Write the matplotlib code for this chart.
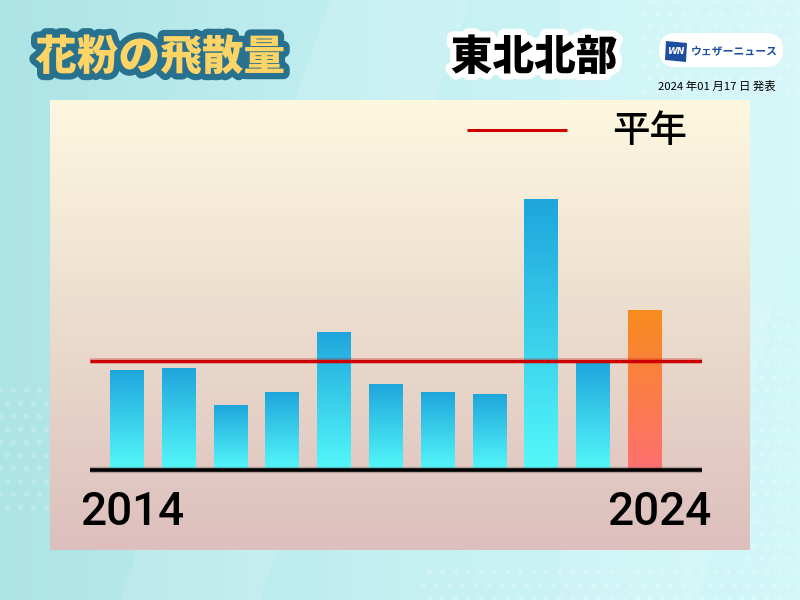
import numpy as np
import matplotlib
matplotlib.use("Agg")
import matplotlib.pyplot as plt
from matplotlib.patches import FancyBboxPatch, Rectangle, Polygon
from matplotlib.colors import LinearSegmentedColormap
import matplotlib.patheffects as pe

plt.rcParams['font.family'] = ['Noto Sans CJK JP', 'DejaVu Sans']

# ---- data (relative pollen amount, normal year = 100) ----
years = [2014, 2015, 2016, 2017, 2018, 2019, 2020, 2021, 2022, 2023, 2024]
values = [92, 94, 60, 72, 127, 79, 72, 70, 249, 100, 147]
normal = 100
title = "花粉の飛散量"
region = "東北北部"
legend_label = "平年"
brand = "ウェザーニュース"
date_text = "2024 年01 月17 日 発表"
first_label, last_label = "2014", "2024"

W, H = 800, 600
fig = plt.figure(figsize=(8, 6), dpi=100)

# ---- background axes in pixel coords ----
bg = fig.add_axes([0, 0, 1, 1])
bg.set_xlim(0, W)
bg.set_ylim(H, 0)
bg.axis('off')
grad = np.linspace(0, 1, 256).reshape(1, -1)
bgcmap = LinearSegmentedColormap.from_list('bg', ['#ade4e6', '#c4f0f2', '#d4f7f8'])
bg.imshow(grad, extent=[0, W, H, 0], cmap=bgcmap, aspect='auto', zorder=0)
# diagonal light shapes
bg.add_patch(Polygon([[330, 0], [470, 0], [260, 600], [120, 600]], closed=True,
                     fc='white', alpha=0.12, ec='none', zorder=1))
bg.add_patch(Polygon([[560, 0], [800, 0], [800, 200], [700, 600], [560, 600]], closed=True,
                     fc='white', alpha=0.10, ec='none', zorder=1))
# dot pattern
xs, ys = np.meshgrid(np.arange(0, W, 13), np.arange(0, H, 13))
xs = xs + (np.arange(xs.shape[0])[:, None] % 2) * 6.5
mask = ((xs < 50) & (ys > 380) & (ys < 520)) | ((xs > 740) & (ys > 300)) | ((ys > 560) & (xs > 420)) | ((xs > 640) & (ys < 100))
bg.scatter(xs[mask], ys[mask], s=14, c='white', alpha=0.22, lw=0, zorder=1)

# panel gradient
pgrad = np.linspace(0, 1, 256).reshape(-1, 1)
pcmap = LinearSegmentedColormap.from_list('panel', ['#fef8e0', '#ebdccd', '#ddbfbd'])
bg.imshow(pgrad, extent=[50, 750, 550, 100], cmap=pcmap, aspect='auto', zorder=2)

# title
bg.text(160, 58, title, fontsize=30, fontweight='black', color='#ffd466',
        ha='center', va='center', zorder=5,
        path_effects=[pe.withStroke(linewidth=9, foreground='#28718f')])
bg.text(534, 58, region, fontsize=30, fontweight='black', color='black',
        ha='center', va='center', zorder=5,
        path_effects=[pe.withStroke(linewidth=9, foreground='white')])

# logo
bg.add_patch(FancyBboxPatch((659, 33), 124, 34, boxstyle='round,pad=0,rounding_size=17',
                            fc='white', ec='none', zorder=4))
bg.add_patch(Polygon([[666, 41], [687, 43], [686, 62], [665, 60]], closed=True,
                     fc='#1d4fa0', ec='none', zorder=5))
bg.text(676, 51.5, "WN", fontsize=6.5, fontweight='bold', style='italic', color='white',
        ha='center', va='center', zorder=6, family='DejaVu Sans')
bg.text(691, 51, brand, fontsize=7.8, fontweight='bold', color='#1d4fa0',
        ha='left', va='center', zorder=5)
bg.text(717, 86, date_text, fontsize=8.2, color='black', ha='center', va='center', zorder=5)

# legend
bg.plot([467, 567], [130, 130], color='#cc0000', lw=2.2, zorder=5, solid_capstyle='butt')
bg.text(650, 131, legend_label, fontsize=27, fontweight='medium', color='black',
        ha='center', va='center', zorder=5)

# year labels
bg.text(132, 512, first_label, fontsize=33, color='black', family='Roboto', fontweight='medium',
        ha='center', va='center', zorder=5)
bg.text(659, 512, last_label, fontsize=33, color='black', family='Roboto', fontweight='medium',
        ha='center', va='center', zorder=5)

# ---- data axes ----
x0, x1 = 90, 702
ybase, ytop = 470, 100
ax = fig.add_axes([x0 / W, (H - ybase) / H, (x1 - x0) / W, (ybase - ytop) / H])
ax.patch.set_alpha(0)
ax.axis('off')
pix_per_unit = 109 / 100.0
ax.set_ylim(0, (ybase - ytop) / pix_per_unit)
spacing = 51.8
ax.set_xlim(-37 / spacing, 10 + (702 - 645) / spacing)

idx = np.arange(len(values))
bars = ax.bar(idx, values, width=34 / spacing, color='none', edgecolor='none', zorder=3)
blue = LinearSegmentedColormap.from_list('blue', ['#55f8fa', '#1ea5dc'])
orange = LinearSegmentedColormap.from_list('orange', ['#ff7070', '#f78c1e'])
vgrad = np.linspace(0, 1, 256).reshape(-1, 1)
for i, b in enumerate(bars):
    xl, w, h = b.get_x(), b.get_width(), b.get_height()
    cm = orange if i == len(values) - 1 else blue
    im = ax.imshow(vgrad, extent=[xl, xl + w, 0, h], origin='lower', cmap=cm,
                   aspect='auto', zorder=3)
    im.set_clip_path(b)

ax.axhline(normal, color='#cc0000', lw=4, alpha=0.3, zorder=4, solid_capstyle='butt')
ax.axhline(normal, color='#cc0000', lw=2.2, zorder=4, solid_capstyle='butt')
ax.axhline(0, color='#555555', lw=4.5, alpha=0.35, zorder=4, clip_on=False, solid_capstyle='butt')
ax.axhline(0, color='black', lw=2.6, zorder=5, clip_on=False, solid_capstyle='butt')
ax.set_xlim(-37 / spacing, 10 + (702 - 645) / spacing)

fig.savefig('out.png', dpi=100)
